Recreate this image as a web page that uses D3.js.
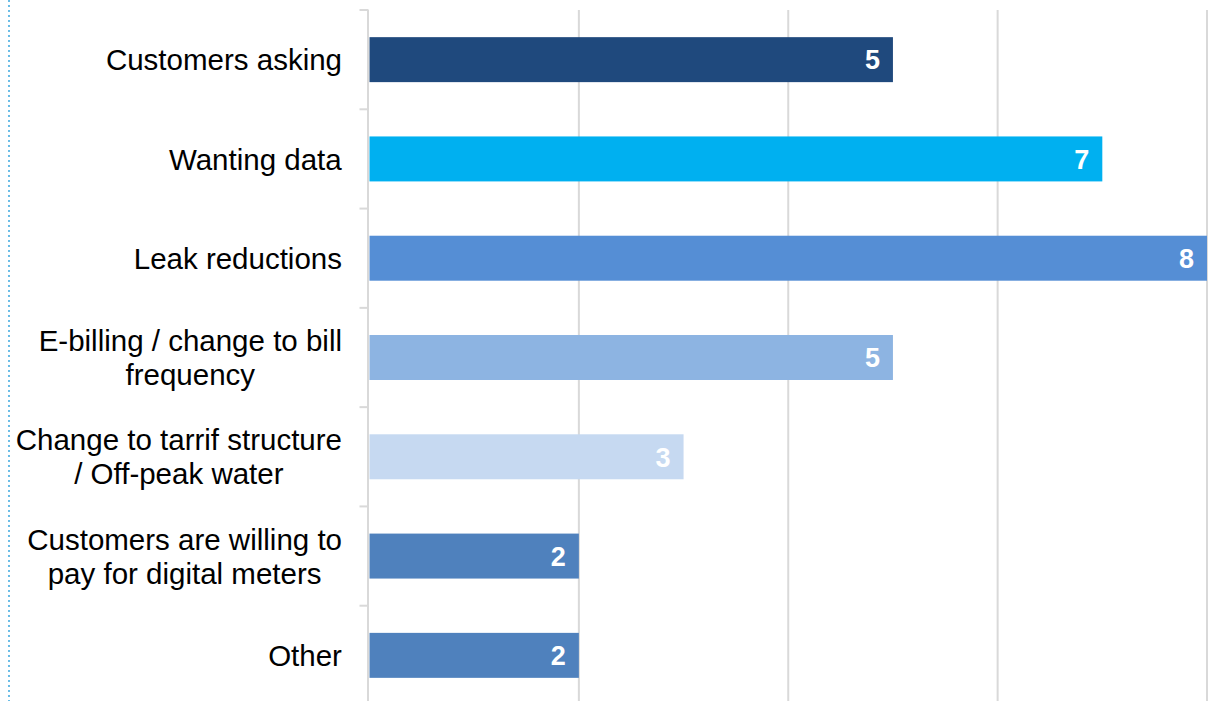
<!DOCTYPE html>
<html>
<head>
<meta charset="utf-8">
<script src="https://cdn.jsdelivr.net/npm/d3@7"></script>
<style>
  body { margin: 0; background: #fff; }
  svg { display: block; font-family: "Liberation Sans", Arial, sans-serif; }
</style>
</head>
<body>
<div id="chart"></div>
<script>
// Data
const categories = [
  ["Customers asking"],
  ["Wanting data"],
  ["Leak reductions"],
  ["E-billing / change to bill", "frequency"],
  ["Change to tarrif structure", "/ Off-peak water"],
  ["Customers are willing to", "pay for digital meters"],
  ["Other"]
];
const values = [5, 7, 8, 5, 3, 2, 2];
const barColors = ["#1f497d", "#00b0f0", "#558ed5", "#8db4e2", "#c6d9f1", "#4f81bd", "#4f81bd"];
const xTicks = [0, 2, 4, 6, 8];

const W = 1213, H = 701;
const plot = { left: 369.5, right: 1207, top: 10, bottom: 705 };

const svg = d3.select("#chart")
  .append("svg")
  .attr("width", W)
  .attr("height", H);

const x = d3.scaleLinear()
  .domain([0, 8])
  .range([plot.left, plot.right]);

const y = d3.scaleBand()
  .domain(d3.range(categories.length))
  .range([plot.top, plot.bottom])
  .paddingInner(0.547)
  .paddingOuter(0.547 / 2);

// left dotted border
svg.append("line")
  .attr("x1", 9).attr("x2", 9)
  .attr("y1", 0).attr("y2", H)
  .attr("stroke", "#6bbde6")
  .attr("stroke-width", 2)
  .attr("stroke-dasharray", "2,3");

// vertical gridlines
svg.append("g")
  .selectAll("line")
  .data(xTicks.slice(1))
  .join("line")
  .attr("x1", d => x(d)).attr("x2", d => x(d))
  .attr("y1", plot.top).attr("y2", H)
  .attr("stroke", "#d9d9d9")
  .attr("stroke-width", 2);

// category axis with ticks on the band edges
svg.append("line")
  .attr("x1", x(0) - 1.5).attr("x2", x(0) - 1.5)
  .attr("y1", plot.top).attr("y2", H)
  .attr("stroke", "#d9d9d9")
  .attr("stroke-width", 2);

svg.append("g")
  .selectAll("line")
  .data(d3.range(categories.length + 1))
  .join("line")
  .attr("x1", x(0) - 10).attr("x2", x(0) - 1)
  .attr("y1", i => plot.top + i * y.step())
  .attr("y2", i => plot.top + i * y.step())
  .attr("stroke", "#d9d9d9")
  .attr("stroke-width", 2);

// bars
svg.append("g")
  .selectAll("rect")
  .data(values)
  .join("rect")
  .attr("x", x(0))
  .attr("y", (d, i) => y(i))
  .attr("width", d => x(d) - x(0))
  .attr("height", y.bandwidth())
  .attr("fill", (d, i) => barColors[i]);

// value labels inside bar ends
svg.append("g")
  .selectAll("text")
  .data(values)
  .join("text")
  .attr("x", d => x(d) - 13)
  .attr("y", (d, i) => y(i) + y.bandwidth() / 2)
  .attr("dy", "0.36em")
  .attr("text-anchor", "end")
  .attr("fill", "#fff")
  .attr("font-weight", "bold")
  .attr("font-size", 27)
  .text(d => d);

// category labels, multi-line centred as a block, right-aligned to the axis
const lineH = 34;
const labelRight = 342;
categories.forEach((lines, i) => {
  const cy = y(i) + y.bandwidth() / 2;
  const g = svg.append("g");
  const txt = g.append("text")
    .attr("font-size", 29.5)
    .attr("fill", "#000");
  lines.forEach((ln, j) => {
    txt.append("tspan")
      .attr("x", 0)
      .attr("y", cy + (j - (lines.length - 1) / 2) * lineH)
      .attr("dy", "0.36em")
      .attr("text-anchor", "middle")
      .text(ln);
  });
  const bb = txt.node().getBBox();
  txt.attr("transform", `translate(${labelRight - bb.width / 2},0)`);
});
</script>
</body>
</html>
